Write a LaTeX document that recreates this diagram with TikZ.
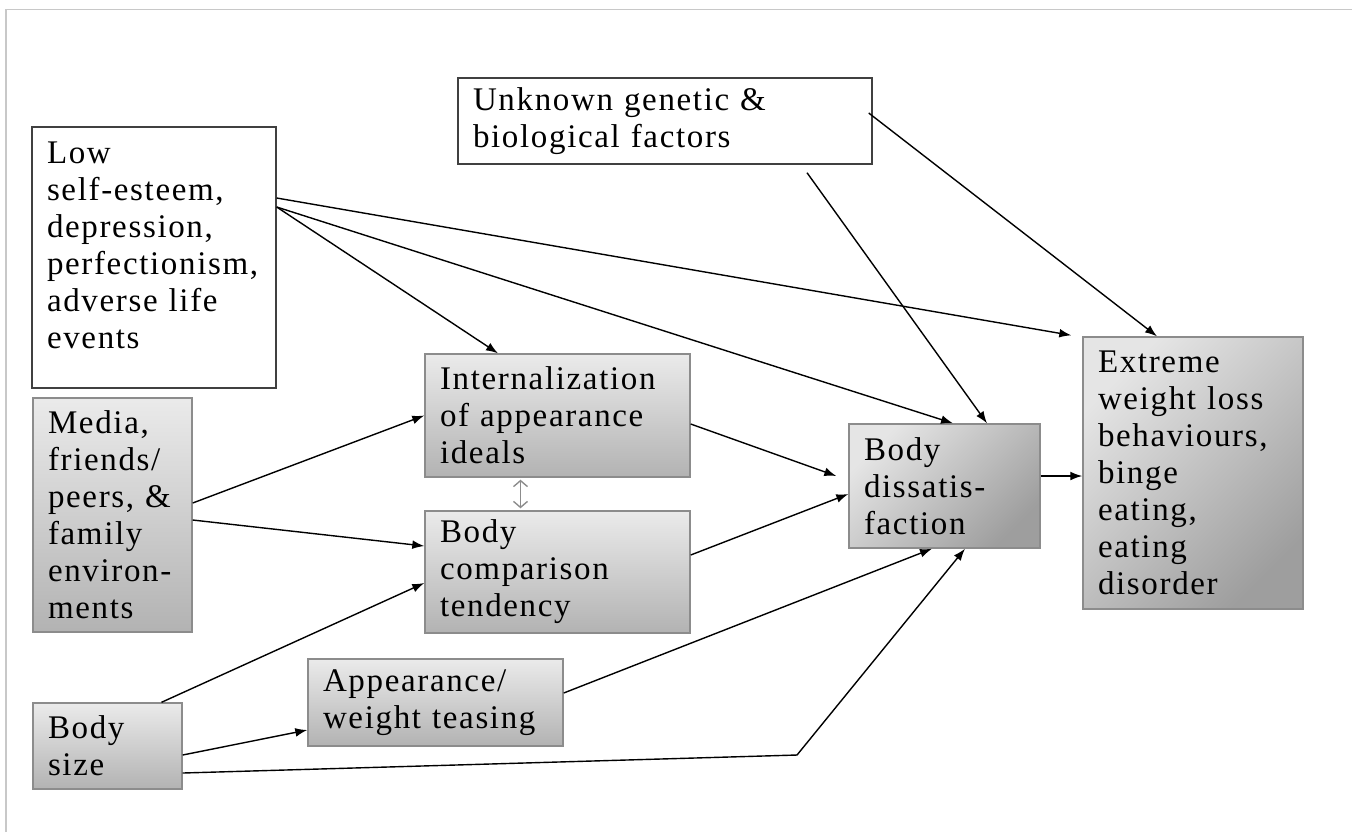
\documentclass[tikz,border=0pt]{standalone}
\usepackage{fontspec}
\setmainfont{Liberation Serif}[LetterSpace=5]
\usetikzlibrary{arrows.meta,calc}
\definecolor{framegrey}{HTML}{C8C8C8}
\definecolor{boxedge}{HTML}{8C8C8C}
\tikzset{
	box/.style={draw, rectangle, align=left, inner xsep=7.5pt, inner ysep=2pt,
		font=\fontsize{16.5}{18.5}\selectfont, anchor=center},
	whitebox/.style={box, draw=black!75, line width=0.7pt, fill=white},
	greybox/.style={box, draw=boxedge, line width=0.7pt,
		top color=black!8, bottom color=black!30},
	darkbox/.style={box, draw=boxedge, line width=0.7pt,
		top color=black!10, bottom color=black!38, shading angle=45},
	link/.style={-{Latex[length=6pt,width=4.4pt]}, line width=0.7pt, black},
	twoway/.style={{Straight Barb[length=3pt,width=7pt]}-{Straight Barb[length=3pt,width=7pt]}, line width=0.7pt, black!45},
}
\begin{document}
\begin{tikzpicture}[x=0.5pt,y=-0.5pt]
\useasboundingbox (0,0) rectangle (1352,832);
\draw[framegrey, line width=0.75pt] (6,832) -- (6,9.5) -- (1352,9.5);

\node[whitebox, minimum width=122pt, minimum height=130.5pt, text width=107pt] (low) at (154,257.5)
	{Low\\self-esteem,\\depression,\\perfectionism,\\adverse life\\events\\[-6pt]\mbox{}};
\node[whitebox, minimum width=207pt, minimum height=43pt, text width=192pt] (gene) at (665,121)
	{Unknown genetic \&\\biological factors};
\node[greybox, minimum width=79.5pt, minimum height=117pt, text width=64.5pt] (media) at (112.5,515)
	{Media,\\friends/\\peers, \&\\family\\environ-\\ments};
\node[greybox, minimum width=132.5pt, minimum height=61.5pt, text width=117.5pt] (intern) at (557.5,415.5)
	{Internalization\\of appearance\\ideals};
\node[greybox, minimum width=132.5pt, minimum height=61pt, text width=117.5pt] (comp) at (557.5,572)
	{Body\\comparison\\tendency};
\node[darkbox, minimum width=95.5pt, minimum height=62pt, text width=80.5pt] (diss) at (944.5,486)
	{Body\\dissatis-\\faction};
\node[darkbox, minimum width=110pt, minimum height=136pt, text width=95pt] (extreme) at (1193,473)
	{Extreme\\weight loss\\behaviours,\\binge\\eating,\\eating\\disorder};
\node[greybox, minimum width=74.5pt, minimum height=43pt, text width=59.5pt] (size) at (107.5,746)
	{Body\\size};
\node[greybox, minimum width=127.5pt, minimum height=43.5pt, text width=112.5pt] (tease) at (435.5,702.5)
	{Appearance/\\weight teasing};
\coordinate (kink) at (797,755);

\draw[link] ([yshift=29.75pt]low.east) -- ([xshift=-5.5pt,yshift=0.5pt]extreme.north west);
\draw[link] ([yshift=25.25pt]low.east) -- ([xshift=4.25pt]diss.north);
\draw[link] ([yshift=25.25pt]low.east) -- ([xshift=-29.75pt]intern.north);
\draw[link] ([xshift=71pt,yshift=-4pt]gene.south) -- ([xshift=21.25pt]diss.north);
\draw[link] ([xshift=-2pt,yshift=4pt]gene.east) -- ([xshift=-18pt]extreme.north);
\draw[link] ([yshift=6pt]media.east) -- (intern.west);
\draw[link] ([yshift=-2.5pt]media.east) -- ([yshift=13pt]comp.west);
\draw[link] ([xshift=27pt]size.north) -- ([yshift=-5.5pt]comp.west);
\draw[link] ([yshift=-4.5pt]size.east) -- ([yshift=-13.75pt]tease.west);
\draw[link] ([yshift=-13.5pt]size.east) -- (kink) -- ([xshift=10.25pt]diss.south);
\draw[link] ([yshift=4.75pt]tease.east) -- ([xshift=-6.25pt]diss.south);
\draw[link] ([yshift=-4.25pt]intern.east) -- ([xshift=-6pt,yshift=5pt]diss.west);
\draw[link] ([yshift=8.5pt]comp.east) -- ([yshift=-4pt]diss.west);
\draw[link] ([yshift=5pt]diss.east) -- ([yshift=-1.5pt]extreme.west);
\draw[twoway] ([xshift=-18.5pt,yshift=-1pt]intern.south) -- ([xshift=-18.5pt,yshift=1pt]comp.north);
\end{tikzpicture}
\end{document}
